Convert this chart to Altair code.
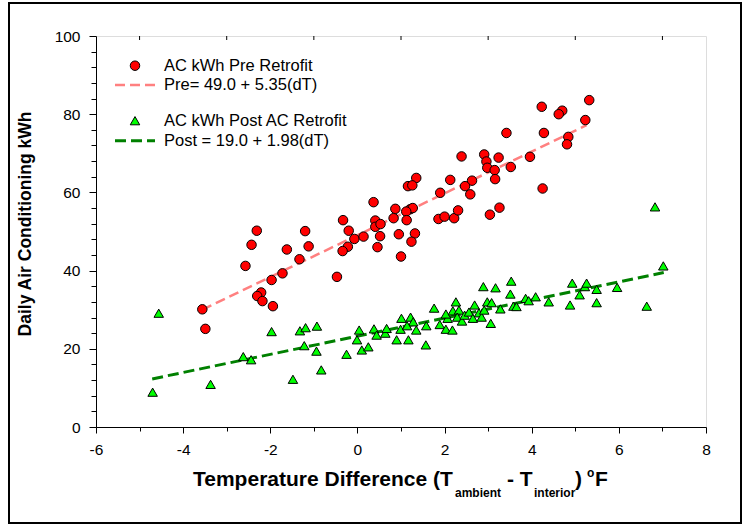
import altair as alt
import pandas as pd

# ---------------- data ----------------
pre_x = [-2.31, -2.43, -1.62, -1.33, -2.57, -1.72, -1.97, -2.21, -2.30, -2.18,
         -1.94, -3.56, -3.49, 2.39, 1.35, 1.16, 1.26, 2.13, 2.63, 2.47,
         2.59, 1.90, 0.37, 0.87, 1.21, 1.27, 1.12, 0.83, 1.13, 1.86,
         2.00, 2.22, 2.31, -0.33, 0.41, 0.41, 0.53, -0.20, -0.07, 0.14,
         0.52, 0.95, 1.32, 1.24, 0.46, -0.22, -0.34, 1.00, -1.20, -1.12,
         -0.47, 5.32, 4.23, 4.70, 4.62, 5.23, 3.42, 4.28, 4.84, 4.81,
         2.91, 3.24, 2.96, 2.98, 3.15, 3.52, 3.96, 3.16, 4.25, 3.26, 3.04]
pre_y = [50.2, 46.6, 45.4, 42.9, 41.2, 39.3, 37.6, 34.4, 33.5, 32.2,
         30.9, 30.1, 25.1, 69.2, 63.7, 61.6, 61.8, 63.2, 63.0, 61.6,
         59.5, 59.9, 57.5, 55.8, 55.7, 56.0, 55.1, 53.4, 52.9, 53.2,
         53.8, 53.4, 55.4, 52.9, 52.8, 51.2, 51.9, 50.2, 48.1, 48.7,
         48.8, 49.3, 49.5, 47.4, 46.0, 46.1, 45.0, 43.6, 50.1, 46.2,
         38.4, 83.6, 81.9, 80.9, 80.0, 78.5, 75.2, 75.2, 74.2, 72.3,
         69.7, 68.9, 67.9, 66.3, 65.7, 66.5, 69.1, 63.4, 61.0, 56.1, 54.3]

post_x = [-4.56, -4.70, -3.37, -2.62, -2.44, -1.97, -1.48, -1.32, -1.19, -0.93,
          -1.22, -0.94, -0.83, -0.25, 0.10, 0.25, -0.01, 0.04, 0.38, 0.44,
          0.64, 0.67, 0.90, 1.17, 1.57, 0.99, 1.01, 1.22, 1.28, 1.14,
          1.35, 1.58, 1.76, 1.89, 2.03, 2.18, 2.07, 2.03, 2.19, 2.26,
          2.33, 2.29, 2.40, 2.46, 2.56, 2.69, 2.65, 2.79, 2.85, 2.91,
          2.98, 3.08, 3.06, 3.28, 2.89, 3.17, 3.53, 3.51, 3.58, 3.65,
          3.86, 3.93, 4.09, 4.39, 4.88, 4.93, 5.10, 5.22, 5.26, 5.49,
          5.49, 5.96, 6.64, 6.83, 7.02]
post_y = [29.1, 8.9, 10.9, 18.0, 17.2, 24.4, 12.2, 24.6, 25.4, 25.8,
          20.8, 19.4, 14.6, 18.6, 19.7, 20.5, 22.3, 24.8, 25.1, 23.5,
          24.0, 25.2, 22.3, 22.3, 21.0, 25.0, 27.8, 28.1, 26.9, 25.9,
          24.8, 25.9, 30.4, 26.2, 25.0, 24.8, 27.8, 28.9, 29.7, 32.0,
          29.9, 28.1, 27.1, 28.6, 29.4, 31.2, 27.8, 29.2, 28.1, 29.9,
          32.0, 31.8, 26.5, 30.2, 35.9, 35.6, 37.3, 34.0, 30.9, 30.8,
          32.9, 32.3, 33.3, 32.0, 31.2, 36.8, 33.8, 35.9, 36.8, 35.2,
          31.8, 35.7, 30.9, 56.3, 41.2]

pre_fit_x = [-3.56, 5.26]
pre_fit_y = [30.0, 77.2]
post_fit_x = [-4.71, 7.03]
post_fit_y = [12.3, 39.5]

x_tick_values = list(range(-6, 9))
y_tick_values = list(range(0, 101, 4))
top_tick_values = [-5, -3, -1, 1, 3, 5, 7]

legend_labels = ["AC kWh Pre Retrofit", "Pre= 49.0 + 5.35(dT)",
                 "AC kWh Post AC Retrofit", "Post = 19.0 + 1.98(dT)"]
x_title_parts = ["Temperature Difference (T", "ambient", "- T", "interior", ")", "o", "F"]
y_title = "Daily Air Conditioning kWh"

FONT = "Liberation Sans"
RED = "#FF0000"
GREEN = "#00FF00"
PINK = "#FF8080"
DKGREEN = "#008000"

pre_df = pd.DataFrame({"x": pre_x, "y": pre_y})
post_df = pd.DataFrame({"x": post_x, "y": post_y})
pre_fit_df = pd.DataFrame({"x": pre_fit_x, "y": pre_fit_y})
post_fit_df = pd.DataFrame({"x": post_fit_x, "y": post_fit_y})
top_df = pd.DataFrame({"x": top_tick_values})
one = pd.DataFrame({"a": [0]})

xs = alt.Scale(domain=[-6, 8], nice=False, zero=False)
ys = alt.Scale(domain=[0, 100], nice=False, zero=False)

X_AX = alt.Axis(values=x_tick_values, title=None, grid=False,
                labelExpr="datum.value % 2 === 0 ? '' + datum.value : ''",
                labelOverlap=False, labelFlush=False,
                tickSize={"condition": {"test": "datum.value % 2 === 0", "value": 6}, "value": 4},
                labelPadding=9, labelFont=FONT, labelFontSize=15.5, labelColor="black",
                tickColor="black", domainColor="black")
Y_AX = alt.Axis(values=y_tick_values, title=None, grid=False,
                labelExpr="datum.value % 20 === 0 ? datum.label : ''",
                labelOverlap=False, labelFlush=False,
                tickSize={"condition": {"test": "datum.value % 20 === 0", "value": 7}, "value": 5},
                labelPadding=9, labelFont=FONT, labelFontSize=15.5, labelColor="black",
                tickColor="black", domainColor="black")

def X(field="x"):
    return alt.X(f"{field}:Q", scale=xs, axis=X_AX)

def Y(field="y"):
    return alt.Y(f"{field}:Q", scale=ys, axis=Y_AX)

layers = []

# outer border
layers.append(alt.Chart(one).mark_rect(fill="white", fillOpacity=0, stroke="black", strokeWidth=2).encode(
    x=alt.value(-87), x2=alt.value(645), y=alt.value(-33), y2=alt.value(487)))

# fit lines
layers.append(alt.Chart(pre_fit_df).mark_line(color=PINK, strokeWidth=2.5, strokeDash=[10, 5]).encode(x=X(), y=Y()))
layers.append(alt.Chart(post_fit_df).mark_line(color=DKGREEN, strokeWidth=3, strokeDash=[11, 5]).encode(x=X(), y=Y()))

# points
layers.append(alt.Chart(post_df).mark_point(shape="triangle-up", filled=True, fill=GREEN, stroke="black",
                                            strokeWidth=1, size=90, opacity=1).encode(x=X(), y=Y()))
layers.append(alt.Chart(pre_df).mark_point(shape="circle", filled=True, fill=RED, stroke="black",
                                           strokeWidth=1, size=90, opacity=1).encode(x=X(), y=Y()))

# inward minor ticks on the top frame
layers.append(alt.Chart(top_df).mark_rule(color="black", strokeWidth=1).encode(
    x=X(), y=alt.value(0), y2=alt.value(4)))

# legend
LX_SYM, LX_LINE0, LX_LINE1, LX_TEXT = 39, 19, 59, 68
rows = [29.7, 49, 84.7, 104.7]
layers.append(alt.Chart(one).mark_point(shape="circle", filled=True, fill=RED, stroke="black",
                                        strokeWidth=1, size=90, opacity=1).encode(
    x=alt.value(LX_SYM), y=alt.value(rows[0])))
layers.append(alt.Chart(one).mark_rule(color=PINK, strokeWidth=2.5, strokeDash=[10, 5]).encode(
    x=alt.value(LX_LINE0), x2=alt.value(LX_LINE1), y=alt.value(rows[1])))
layers.append(alt.Chart(one).mark_point(shape="triangle-up", filled=True, fill=GREEN, stroke="black",
                                        strokeWidth=1, size=90, opacity=1).encode(
    x=alt.value(LX_SYM), y=alt.value(rows[2])))
layers.append(alt.Chart(one).mark_rule(color=DKGREEN, strokeWidth=3, strokeDash=[11, 5]).encode(
    x=alt.value(LX_LINE0), x2=alt.value(LX_LINE1), y=alt.value(rows[3])))
for lab, ry in zip(legend_labels, rows):
    layers.append(alt.Chart(one).mark_text(align="left", baseline="middle", font=FONT, fontSize=16.5,
                                           color="black").encode(
        x=alt.value(LX_TEXT), y=alt.value(ry), text=alt.value(lab)))

# y title
layers.append(alt.Chart(one).mark_text(align="center", baseline="middle", font=FONT, fontSize=17.5,
                                       fontWeight="bold", angle=270, color="black").encode(
    x=alt.value(-70), y=alt.value(188), text=alt.value(y_title)))

# x title (pieces for subscripts / superscript)
BIG, SMALL, SUPS = 21, 12, 12
BASE, SUB, SUP = 450, 461, 441
pieces = [
    (x_title_parts[0], 97, BASE, BIG),
    (x_title_parts[1], 359, SUB, SMALL),
    (x_title_parts[2], 411, BASE, BIG),
    (x_title_parts[3], 438, SUB, SMALL),
    (x_title_parts[4], 479, BASE, BIG),
    (x_title_parts[5], 491, SUP, SUPS),
    (x_title_parts[6], 499, BASE, BIG),
]
for txt, px, py, fs in pieces:
    layers.append(alt.Chart(one).mark_text(align="left", baseline="alphabetic", font=FONT, fontSize=fs,
                                           fontWeight="bold", color="black").encode(
        x=alt.value(px), y=alt.value(py), text=alt.value(txt)))

chart = alt.layer(*layers).properties(
    width=610, height=391,
    padding={"left": 96, "top": 36, "right": 37, "bottom": 98},
    autosize=alt.AutoSizeParams(type="none"),
).configure_view(stroke="black", strokeWidth=1).configure(background="white")

chart.save("out.html", embed_options={"renderer": "svg", "actions": False})
